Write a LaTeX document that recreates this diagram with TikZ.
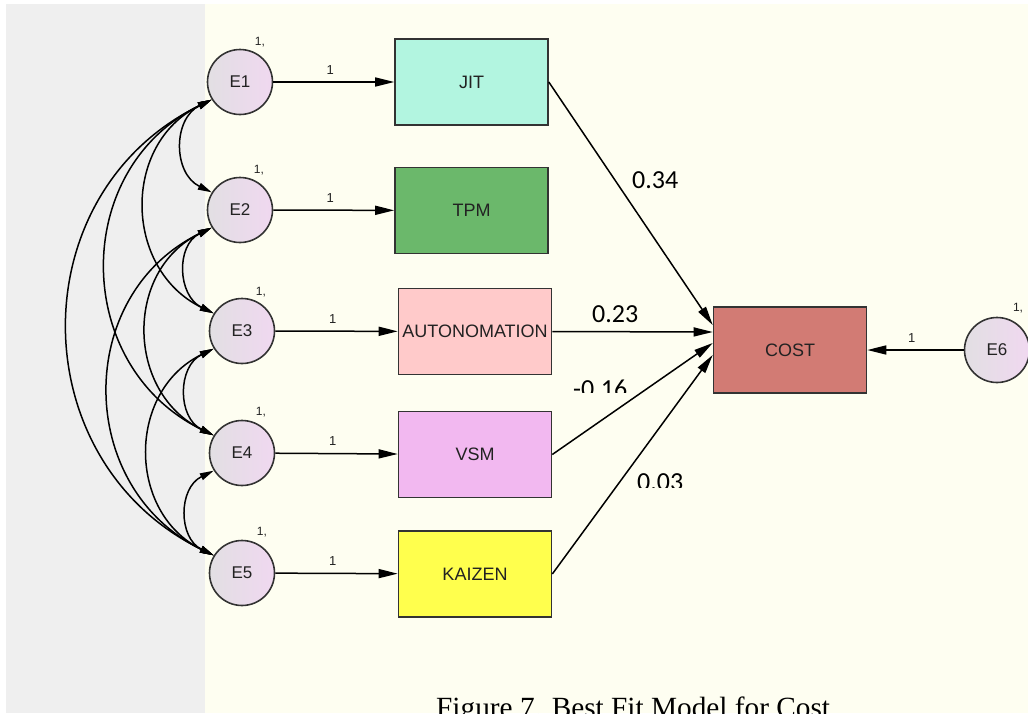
\documentclass[tikz,border=0pt]{standalone}
\usepackage{fontspec}
\setmainfont{Liberation Sans}
\newfontfamily\calib{Carlito}
\newfontfamily\tnr{Liberation Serif}
\usetikzlibrary{arrows.meta,calc}
\definecolor{graybg}{HTML}{EFEFEF}
\definecolor{creambg}{HTML}{FEFEF1}
\definecolor{linec}{HTML}{333333}
\definecolor{txt}{HTML}{222222}
\definecolor{errL}{HTML}{E2DFE3}
\definecolor{errR}{HTML}{F0D8F0}
\definecolor{cJIT}{HTML}{B2F5E0}
\definecolor{cTPM}{HTML}{6BB86B}
\definecolor{cAUTO}{HTML}{FFCACA}
\definecolor{cVSM}{HTML}{F2B8F0}
\definecolor{cKAI}{HTML}{FFFF4D}
\definecolor{cCOST}{HTML}{D27B74}
\begin{document}
\begin{tikzpicture}[x=1pt,y=1pt,
  err/.style={circle, draw=linec, line width=1.6pt, minimum size=65pt, inner sep=0pt,
    left color=errL, right color=errR, font=\fontsize{17}{18}\selectfont, text=txt},
  obs/.style={rectangle, draw=linec, line width=1.6pt, minimum width=153pt, minimum height=86pt,
    inner sep=0pt, font=\fontsize{18}{19}\selectfont, text=txt},
  reg/.style={draw=black, line width=1.5pt, -{Triangle[length=19pt,width=9pt]}},
  cov/.style={draw=black, line width=1.5pt, {Triangle[length=14pt,width=7pt]}-{Triangle[length=14pt,width=7pt]}},
  one/.style={font=\fontsize{13}{14}\selectfont, text=txt, anchor=south, inner sep=0pt, yshift=7pt},
  var/.style={font=\fontsize{12}{13}\selectfont, text=txt, inner sep=0pt},
  coef/.style={font=\calib\fontsize{26}{28}\selectfont, anchor=base west, inner sep=0pt}
]
\clip (0,0) rectangle (1028,-713);
\fill[white] (0,0) rectangle (1028,-713);
\fill[graybg] (6,-4) rectangle (205,-713);
\fill[creambg] (205,-4) rectangle (1028,-713);

% error terms
\node[err] (E1) at (240,-82) {E1};
\node[err] (E2) at (240,-210) {E2};
\node[err] (E3) at (242,-331) {E3};
\node[err] (E4) at (242,-453) {E4};
\node[err] (E5) at (242,-573) {E5};
\node[err] (E6) at (997,-350) {E6};

\node[var] (v1) at (260,-42) {1,};
\node[var] (v2) at (259,-170) {1,};
\node[var] (v3) at (261,-292) {1,};
\node[var] (v4) at (261,-412) {1,};
\node[var] (v5) at (262,-532) {1,};
\node[var] (v6) at (1018,-308) {1,};

% observed
\node[obs, fill=cJIT] (JIT) at (471.5,-82) {JIT};
\node[obs, fill=cTPM] (TPM) at (471.5,-210.5) {TPM};
\node[obs, fill=cAUTO] (AUTO) at (475,-331.5) {AUTONOMATION};
\node[obs, fill=cVSM] (VSM) at (475,-454.5) {VSM};
\node[obs, fill=cKAI] (KAI) at (475,-574) {KAIZEN};
\node[obs, fill=cCOST] (COST) at (790,-350) {COST};

% error -> observed
\draw[reg] (E1) -- node[one, pos=0.47] {1} (JIT);
\draw[reg] (E2) -- node[one, pos=0.47] {1} (TPM);
\draw[reg] (E3) -- node[one, pos=0.47] {1} (AUTO);
\draw[reg] (E4) -- node[one, pos=0.47] {1} (VSM);
\draw[reg] (E5) -- node[one, pos=0.47] {1} (KAI);
\draw[reg] (E6) -- node[one, pos=0.54] {1} (COST);

% paths to COST
\draw[reg] (JIT.east) -- ([yshift=25pt]COST.west);
\draw[reg] (AUTO.east) -- ([yshift=18pt]COST.west);
\draw[reg] (VSM.east) -- ([yshift=7pt]COST.west);
\draw[reg] (KAI.east) -- ([yshift=-5pt]COST.west);

% covariances
\foreach \a/\b in {E1/E2,E1/E3,E1/E4,E1/E5,E2/E3,E2/E4,E2/E5,E3/E4,E3/E5,E4/E5}{
  \draw[cov] (\a.212) to[out=206,in=154,looseness=1.2] (\b.148);
}

% coefficients
\node[coef] (c1) at (632,-188) {0.34};
\node[coef] (c2) at (592,-322) {0.23};
\begin{scope}
  \clip (560,-360) rectangle (700,-392);
  \node[coef] (c3) at (573,-397.5) {-0.16};
\end{scope}
\begin{scope}
  \clip (620,-455) rectangle (720,-487.5);
  \node[coef] (c4) at (637,-490) {0.03};
\end{scope}

% caption
\node[font=\tnr\fontsize{29.3}{30}\selectfont, anchor=base west, inner sep=0pt] (cap) at (436,-717) {Figure 7. Best Fit Model for Cost};
\end{tikzpicture}
\end{document}
